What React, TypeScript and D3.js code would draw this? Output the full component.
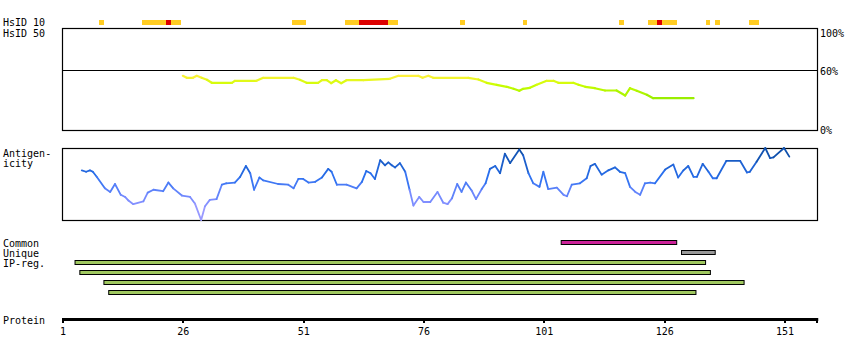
import * as d3 from 'd3'
import { useEffect, useRef } from 'react'

const W = 850
const H = 360
const BOX_L = 62.5
const BOX_R = 817.5
const FONT = '"DejaVu Sans Mono", monospace'

// HsID 10 strip: residue runs and level (o = orange, r = red)
const hsid10Start = [9, 18, 23, 24, 49, 60, 63, 69, 84, 97, 117, 123, 125, 126, 135, 137, 144]
const hsid10End = [9, 22, 23, 25, 51, 62, 68, 70, 84, 97, 117, 124, 125, 128, 135, 137, 145]
const hsid10Level = ['o', 'o', 'r', 'o', 'o', 'o', 'r', 'o', 'o', 'o', 'o', 'o', 'r', 'o', 'o', 'o', 'o']

// HsID 50 identity (% vs residue)
const identPos = [25.9, 26.7, 28.0, 28.8, 29.8, 30.9, 31.9, 36.1, 36.7, 41.2, 42.6, 48.9, 50.2, 51.6, 54.0, 54.8, 55.8, 56.7, 57.7, 58.8, 59.9, 63.4, 68.9, 70.7, 74.8, 75.7, 76.9, 77.9, 85.2, 87.3, 89.0, 91.1, 93.2, 94.6, 95.8, 96.6, 98.0, 99.4, 101.5, 102.9, 103.9, 107.0, 108.1, 109.5, 111.5, 113.6, 116.0, 117.8, 118.8, 120.2, 122.3, 123.6, 132.0]
const identVal = [54.7, 52.7, 52.7, 54.7, 52.7, 50.7, 47.7, 47.7, 49.7, 49.7, 52.7, 52.7, 50.7, 47.7, 47.7, 50.3, 50.3, 47.3, 50.3, 47.3, 50.3, 50.3, 51.7, 54.7, 54.7, 52.7, 54.7, 52.7, 52.7, 51, 47.7, 45.7, 43.7, 41.7, 39.7, 41.7, 42.7, 45.7, 49.7, 49.7, 47.7, 47.7, 45.7, 43.7, 42.3, 40, 40, 35, 42.3, 39.7, 35.7, 32.3, 32.3]

// Antigenicity (relative, 0..1)
const antiPos = [4.9, 5.8, 6.6, 7.2, 8.0, 9.7, 10.8, 11.8, 13.0, 13.9, 14.6, 15.6, 17.7, 18.6, 19.8, 21.8, 22.9, 23.9, 25.7, 27.4, 28.4, 29.7, 30.5, 31.5, 32.9, 34.0, 34.9, 36.7, 37.8, 39.0, 39.9, 40.7, 41.8, 42.6, 45.7, 47.8, 48.9, 49.9, 50.9, 52.0, 53.4, 54.8, 56.1, 56.8, 57.9, 59.9, 62.0, 63.1, 64.0, 64.9, 65.8, 66.9, 67.9, 68.6, 69.3, 70.0, 71.0, 72.1, 73.0, 73.8, 75.0, 75.9, 77.3, 78.8, 80.0, 80.9, 81.8, 82.9, 83.8, 84.7, 85.9, 86.8, 88.0, 88.8, 89.7, 90.8, 91.8, 92.8, 93.9, 95.8, 96.6, 97.7, 98.7, 100.0, 100.8, 101.8, 103.6, 105.0, 105.7, 106.7, 108.4, 109.8, 110.6, 111.5, 112.9, 114.3, 115.7, 116.7, 117.8, 118.8, 119.9, 120.9, 121.9, 123.0, 124.0, 126.1, 127.8, 128.8, 129.9, 130.9, 132.0, 132.7, 133.9, 135.1, 136.0, 136.8, 138.8, 141.7, 143.1, 143.7, 145.1, 146.9, 147.9, 148.6, 150.8, 151.9]
const antiVal = [0.69, 0.67, 0.69, 0.67, 0.60, 0.44, 0.39, 0.50, 0.35, 0.32, 0.27, 0.22, 0.26, 0.38, 0.42, 0.40, 0.52, 0.44, 0.34, 0.32, 0.23, 0.0, 0.19, 0.28, 0.29, 0.49, 0.51, 0.52, 0.60, 0.75, 0.65, 0.42, 0.59, 0.55, 0.50, 0.49, 0.44, 0.57, 0.57, 0.52, 0.53, 0.59, 0.71, 0.67, 0.49, 0.49, 0.44, 0.53, 0.68, 0.65, 0.57, 0.83, 0.76, 0.80, 0.76, 0.73, 0.79, 0.67, 0.42, 0.20, 0.32, 0.25, 0.25, 0.39, 0.24, 0.22, 0.30, 0.50, 0.39, 0.52, 0.41, 0.29, 0.43, 0.51, 0.71, 0.75, 0.65, 0.92, 0.79, 0.98, 0.90, 0.65, 0.51, 0.46, 0.67, 0.43, 0.45, 0.35, 0.33, 0.49, 0.51, 0.58, 0.75, 0.78, 0.63, 0.69, 0.73, 0.67, 0.65, 0.46, 0.39, 0.35, 0.51, 0.52, 0.51, 0.70, 0.77, 0.59, 0.69, 0.75, 0.60, 0.60, 0.78, 0.67, 0.58, 0.58, 0.82, 0.82, 0.66, 0.67, 0.81, 1.0, 0.86, 0.87, 1.0, 0.88]

// Feature bars (residue ranges)
const commonStart = [105]
const commonEnd = [128]
const uniqueStart = [130]
const uniqueEnd = [136]
const ipStart = [4, 5, 10, 11]
const ipEnd = [134, 135, 142, 132]

const tickValues = [1, 26, 51, 76, 101, 126, 151]
const PROTEIN_END = 157.7

export default function App() {
  const svgRef = useRef<SVGSVGElement>(null)

  useEffect(() => {
    if (!svgRef.current) return
    const svg = d3.select(svgRef.current)
    svg.selectAll('*').remove()

    const x = d3.scaleLinear().domain([1, 151]).range([63, 785])
    const yId = d3.scaleLinear().domain([0, 100]).range([130.5, 30.5])
    const yAg = d3.scaleLinear().domain([0, 1]).range([220, 148])

    const label = (tx: number, ty: number, s: string, anchor = 'start') =>
      svg.append('text')
        .attr('x', tx).attr('y', ty)
        .attr('text-anchor', anchor)
        .attr('dominant-baseline', 'central')
        .attr('font-family', FONT)
        .attr('font-size', 10)
        .attr('fill', '#000')
        .text(s)

    // left labels
    label(3, 22.5, 'HsID 10')
    label(3, 33, 'HsID 50')
    label(3, 153, 'Antigen-')
    label(3, 163, 'icity')
    label(3, 243, 'Common')
    label(3, 253, 'Unique')
    label(3, 263, 'IP-reg.')
    label(3, 320, 'Protein')

    // HsID 10 strip
    svg.append('g').selectAll('rect')
      .data(hsid10Start.map((s, i) => ({ s, e: hsid10End[i], lv: hsid10Level[i] })))
      .enter().append('rect')
      .attr('x', d => x(d.s - 0.5))
      .attr('y', 20)
      .attr('width', d => x(d.e + 0.5) - x(d.s - 0.5))
      .attr('height', 5)
      .attr('fill', d => d.lv === 'r' ? '#dd0000' : '#ffcc22')
      .attr('shape-rendering', 'crispEdges')

    // identity box
    svg.append('rect')
      .attr('x', BOX_L).attr('y', 28.5)
      .attr('width', BOX_R - BOX_L).attr('height', 102)
      .attr('fill', 'none').attr('stroke', '#000').attr('stroke-width', 1.2)
    svg.append('line')
      .attr('x1', BOX_L).attr('x2', BOX_R)
      .attr('y1', yId(60)).attr('y2', yId(60))
      .attr('stroke', '#000').attr('stroke-width', 1.2)
    label(820, 33, '100%')
    label(820, 71, '60%')
    label(820, 130, '0%')

    const idColor = d3.scaleLinear<string>().domain([32, 46, 53]).range(['#99ee00', '#ccff00', '#f4f430'])
    const idG = svg.append('g')
    for (let i = 0; i < identPos.length - 1; i++) {
      const v = (identVal[i] + identVal[i + 1]) / 2
      idG.append('line')
        .attr('x1', x(identPos[i])).attr('y1', yId(identVal[i]))
        .attr('x2', x(identPos[i + 1])).attr('y2', yId(identVal[i + 1]))
        .attr('stroke', idColor(v))
        .attr('stroke-width', 2.2)
        .attr('stroke-linecap', 'round')
    }

    // antigenicity box
    svg.append('rect')
      .attr('x', BOX_L).attr('y', 148.5)
      .attr('width', BOX_R - BOX_L).attr('height', 72)
      .attr('fill', 'none').attr('stroke', '#000').attr('stroke-width', 1.2)

    const agColor = d3.scaleLinear<string>().domain([0, 0.3, 0.6, 1]).range(['#a8a0ff', '#7a8cff', '#2a70f0', '#0a4aa0'])
    const agG = svg.append('g')
    for (let i = 0; i < antiPos.length - 1; i++) {
      const v = (antiVal[i] + antiVal[i + 1]) / 2
      agG.append('line')
        .attr('x1', x(antiPos[i])).attr('y1', yAg(antiVal[i]))
        .attr('x2', x(antiPos[i + 1])).attr('y2', yAg(antiVal[i + 1]))
        .attr('stroke', agColor(v))
        .attr('stroke-width', 1.8)
        .attr('stroke-linecap', 'round')
    }

    // feature bars
    const bars = (starts: number[], ends: number[], top: number, fill: string) => {
      svg.append('g').selectAll('rect')
        .data(starts.map((s, i) => ({ s, e: ends[i], i })))
        .enter().append('rect')
        .attr('x', d => x(d.s - 0.5))
        .attr('y', d => top + d.i * 10)
        .attr('width', d => x(d.e + 0.5) - x(d.s - 0.5))
        .attr('height', 4)
        .attr('fill', fill)
        .attr('stroke', '#000')
        .attr('stroke-width', 1)
    }
    bars(commonStart, commonEnd, 240.5, '#cc2299')
    bars(uniqueStart, uniqueEnd, 250.5, '#999999')
    bars(ipStart, ipEnd, 260.5, '#a0c860')

    // protein axis
    svg.append('rect')
      .attr('x', 62).attr('y', 318)
      .attr('width', x(PROTEIN_END) + 1 - 62).attr('height', 3)
      .attr('fill', '#000')
    const tg = svg.append('g')
    tg.selectAll('rect')
      .data([...tickValues, PROTEIN_END])
      .enter().append('rect')
      .attr('x', d => Math.round(x(d)) - 1)
      .attr('y', 318)
      .attr('width', 2)
      .attr('height', 5)
      .attr('fill', '#000')
    tg.selectAll('text')
      .data(tickValues)
      .enter().append('text')
      .attr('x', d => x(d))
      .attr('y', 331)
      .attr('text-anchor', 'middle')
      .attr('dominant-baseline', 'central')
      .attr('font-family', FONT)
      .attr('font-size', 10)
      .text(d => String(d))
  }, [])

  return (
    <svg
      ref={svgRef}
      width={W}
      height={H}
      style={{ position: 'absolute', left: 0, top: 0, background: '#fff', display: 'block' }}
    />
  )
}
